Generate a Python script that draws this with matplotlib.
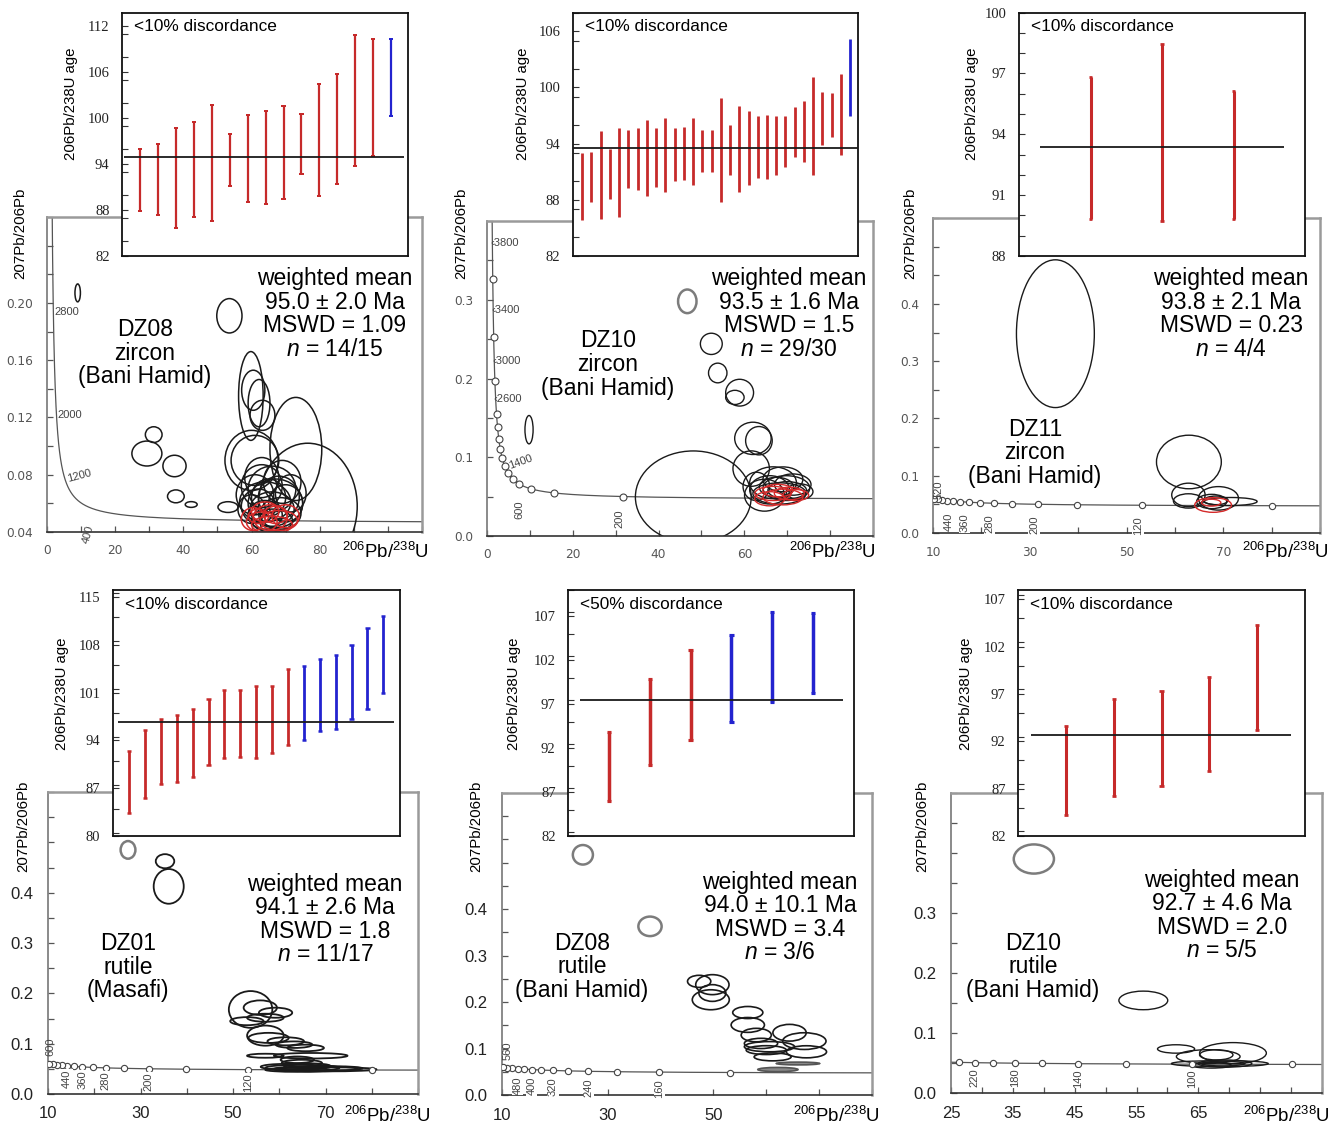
import numpy as np
import matplotlib
matplotlib.use('Agg')
import matplotlib.pyplot as plt
from matplotlib.patches import Ellipse
from matplotlib.ticker import MultipleLocator, FormatStrFormatter

plt.rcParams['font.family'] = ['Liberation Sans', 'DejaVu Sans']
plt.rcParams['mathtext.fontset'] = 'custom'
plt.rcParams['mathtext.rm'] = 'Liberation Sans'
plt.rcParams['mathtext.it'] = 'Liberation Sans:italic'

# ---------------- values ----------------
sample_names = ['DZ08', 'DZ10', 'DZ11', 'DZ01', 'DZ08', 'DZ10']
minerals = ['zircon', 'zircon', 'zircon', 'rutile', 'rutile', 'rutile']
localities = ['(Bani Hamid)', '(Bani Hamid)', '(Bani Hamid)', '(Masafi)', '(Bani Hamid)', '(Bani Hamid)']
wm_age = ['95.0', '93.5', '93.8', '94.1', '94.0', '92.7']
wm_err = ['2.0', '1.6', '2.1', '2.6', '10.1', '4.6']
mswd = ['1.09', '1.5', '0.23', '1.8', '3.4', '2.0']
n_used = ['14/15', '29/30', '4/4', '11/17', '3/6', '5/5']
discordance = ['<10%', '<10%', '<10%', '<10%', '<50%', '<10%']

# inset bars: 206Pb/238U age error bars (lower, upper), colour code, weighted mean
p1_lo = [87.9, 87.35, 85.7, 87.1, 86.55, 91.2, 89.05, 88.8, 89.45, 92.7, 89.85, 91.35, 93.7, 95.0, 100.3]
p1_hi = [95.95, 96.65, 98.75, 99.55, 101.7, 97.95, 100.35, 100.95, 101.6, 100.5, 104.4, 105.75, 110.85, 110.35, 110.35]
p1_col = 'rrrrrrrrrrrrrrb'
p1_mean = 94.95

p2_lo = [85.8, 87.8, 86.0, 88.1, 86.2, 89.3, 89.0, 88.4, 89.4, 88.8, 90.05, 90.1, 89.6, 91.0, 91.0,
         87.8, 90.65, 88.8, 89.6, 90.35, 90.2, 90.7, 91.5, 92.6, 92.0, 90.7, 93.8, 94.7, 92.8, 96.9]
p2_hi = [93.0, 93.1, 95.4, 93.4, 95.7, 95.5, 95.7, 96.5, 95.7, 96.7, 95.7, 95.8, 96.7, 95.5, 95.5,
         98.9, 96.0, 98.0, 97.45, 96.9, 97.1, 96.9, 97.0, 97.9, 98.6, 101.1, 99.5, 99.4, 101.4, 105.2]
p2_col = 'rrrrrrrrrrrrrrrrrrrrrrrrrrrrrb'
p2_mean = 93.5

p3_lo = [89.83, 89.74, 89.83]
p3_hi = [96.83, 98.43, 96.13]
p3_col = 'rrr'
p3_mean = 93.36

p4_lo = [83.33, 85.57, 87.6, 87.91, 88.68, 90.46, 91.48, 91.58, 91.43, 92.09, 93.31, 94.12, 95.3, 95.65, 97.18, 98.6, 100.9]
p4_hi = [92.5, 95.45, 97.18, 97.69, 98.55, 100.08, 101.35, 101.35, 101.97, 101.91, 104.51, 104.87, 105.83, 106.5, 107.97, 110.42, 112.2]
p4_col = 'rrrrrrrrrrrbbbbbb'
p4_mean = 96.67

p5_lo = [85.93, 90.08, 92.89, 94.94, 97.2, 98.23]
p5_hi = [93.88, 99.89, 103.13, 104.83, 107.47, 107.36]
p5_col = 'rrrbbb'
p5_mean = 97.43

p6_lo = [84.17, 86.26, 87.26, 88.87, 93.18]
p6_hi = [93.62, 96.45, 97.29, 98.84, 104.28]
p6_col = 'rrrrr'
p6_mean = 92.66

# error ellipses: (206Pb/238U, 207Pb/206Pb, width, height, kind)
# kind: k black, r red (used in mean), g grey, f filled grey
p1_ell = [(9.0, 0.207, 1.6, 0.0125, 'k'), (53.5, 0.191, 7.4, 0.024, 'k'), (31.3, 0.108, 4.9, 0.011, 'k'),
          (29.3, 0.0948, 8.8, 0.0174, 'k'), (37.4, 0.0861, 6.8, 0.015, 'k'), (37.8, 0.0649, 4.9, 0.009, 'k'),
          (42.3, 0.0592, 3.5, 0.004, 'k'), (53.1, 0.0574, 5.9, 0.0075, 'k'), (59.8, 0.135, 7.2, 0.062, 'k'),
          (60.5, 0.139, 6.8, 0.028, 'k'), (62.2, 0.130, 6.4, 0.033, 'k'), (63.2, 0.1215, 7.3, 0.021, 'k'),
          (73.0, 0.098, 15.2, 0.072, 'k'), (60.0, 0.090, 15.6, 0.042, 'k'), (61.0, 0.090, 14.0, 0.035, 'k'),
          (76.5, 0.058, 29.0, 0.088, 'k'), (63, 0.072, 12, 0.030, 'k'), (66, 0.070, 14, 0.032, 'k'),
          (61, 0.066, 11, 0.028, 'k'), (68, 0.064, 12, 0.030, 'k'), (64, 0.061, 15, 0.028, 'k'),
          (70, 0.060, 10, 0.026, 'k'), (62, 0.058, 10, 0.024, 'k'), (66, 0.056, 13, 0.024, 'k'),
          (68.5, 0.053, 12, 0.022, 'k'), (64, 0.052, 10, 0.020, 'k'), (60, 0.056, 8, 0.020, 'k'),
          (67, 0.060, 16, 0.034, 'k'), (65, 0.064, 10, 0.026, 'k'), (71.5, 0.067, 9, 0.026, 'k'),
          (63, 0.078, 10, 0.028, 'k'), (69, 0.075, 11, 0.030, 'k'), (66, 0.048, 12, 0.016, 'k'),
          (60.5, 0.049, 7, 0.016, 'r'), (63, 0.047, 9, 0.014, 'r'), (65.5, 0.050, 10, 0.018, 'r'),
          (68, 0.048, 11, 0.014, 'r'), (70, 0.051, 8, 0.016, 'r'), (64, 0.054, 8, 0.014, 'r'),
          (67, 0.052, 7, 0.012, 'r'), (62, 0.051, 6, 0.010, 'r'), (66, 0.045, 12, 0.012, 'r')]

p2_ell = [(46.7, 0.298, 4.3, 0.030, 'g'), (52.3, 0.244, 5.1, 0.027, 'k'), (53.8, 0.207, 4.3, 0.025, 'k'),
          (58.9, 0.182, 6.5, 0.034, 'k'), (57.8, 0.176, 4.3, 0.018, 'k'), (9.8, 0.135, 1.9, 0.036, 'k'),
          (48.1, 0.0495, 27.0, 0.117, 'k'), (62.0, 0.124, 8.5, 0.041, 'k'), (63.4, 0.121, 6.2, 0.036, 'k'),
          (61.6, 0.0856, 8.5, 0.045, 'k'), (66.7, 0.0676, 10.9, 0.0405, 'k'), (69.0, 0.072, 9.3, 0.0315, 'k'),
          (65.9, 0.0586, 9.3, 0.036, 'k'), (69.8, 0.0608, 10.9, 0.0315, 'k'), (71.3, 0.0653, 8.5, 0.027, 'k'),
          (64.7, 0.0518, 9.3, 0.0405, 'k'), (68.2, 0.054, 12.4, 0.027, 'k'), (72.9, 0.0563, 6.2, 0.020, 'k'),
          (62.8, 0.063, 6.2, 0.036, 'k'), (67.5, 0.062, 8.0, 0.025, 'k'), (70.0, 0.058, 9.0, 0.022, 'k'),
          (66.7, 0.054, 8.5, 0.018, 'r'), (69.0, 0.0495, 9.3, 0.020, 'r'), (70.5, 0.054, 7.0, 0.016, 'r'),
          (65.9, 0.0473, 7.0, 0.018, 'r'), (67.8, 0.0577, 7.0, 0.016, 'r'), (72.0, 0.052, 6.0, 0.014, 'r')]

p3_ell = [(35.3, 0.348, 16.1, 0.258, 'k'), (62.9, 0.124, 13.4, 0.0935, 'k'), (62.8, 0.0665, 6.9, 0.041, 'k'),
          (62.8, 0.056, 6.2, 0.025, 'k'), (69.0, 0.0605, 8.3, 0.041, 'k'), (71.5, 0.055, 11.0, 0.014, 'k'),
          (67.6, 0.055, 6.2, 0.025, 'k'), (68.5, 0.057, 5.0, 0.015, 'k'), (67.9, 0.0489, 7.6, 0.0256, 'r'),
          (67.5, 0.053, 4.0, 0.012, 'r')]

p4_ell = [(27.3, 0.485, 3.2, 0.035, 'g'), (35.3, 0.4625, 4.0, 0.028, 'k'), (36.1, 0.4125, 6.5, 0.069, 'k'),
          (53.8, 0.168, 9.4, 0.073, 'k'), (55.9, 0.1715, 7.2, 0.029, 'k'), (59.2, 0.1615, 7.2, 0.020, 'k'),
          (53.0, 0.1447, 7.2, 0.016, 'k'), (57.0, 0.1515, 7.9, 0.016, 'k'), (57.0, 0.116, 7.9, 0.040, 'k'),
          (57.7, 0.1115, 8.7, 0.020, 'k'), (61.4, 0.1047, 7.9, 0.016, 'k'), (63.2, 0.098, 7.9, 0.013, 'k'),
          (65.7, 0.0915, 7.9, 0.013, 'k'), (57.0, 0.076, 7.9, 0.008, 'k'), (66.8, 0.076, 15.9, 0.011, 'k'),
          (63.9, 0.068, 7.2, 0.013, 'k'), (64.9, 0.0615, 8.7, 0.013, 'k'), (65, 0.052, 16, 0.012, 'k'),
          (68, 0.050, 18, 0.010, 'k'), (62, 0.054, 12, 0.012, 'k'), (70, 0.049, 22, 0.008, 'k'),
          (66, 0.056, 10, 0.010, 'k'), (64, 0.048, 14, 0.008, 'k'), (72, 0.051, 12, 0.008, 'k')]

p5_ell = [(25.3, 0.517, 3.8, 0.042, 'g'), (38.0, 0.363, 4.4, 0.042, 'g'), (47.3, 0.2446, 4.4, 0.026, 'k'),
          (49.8, 0.2375, 6.3, 0.043, 'k'), (49.8, 0.2195, 5.1, 0.036, 'k'), (49.5, 0.205, 7.0, 0.043, 'k'),
          (56.5, 0.1775, 5.7, 0.026, 'k'), (56.5, 0.1508, 6.3, 0.032, 'k'), (58.1, 0.129, 5.7, 0.029, 'k'),
          (64.4, 0.134, 6.3, 0.036, 'k'), (67.2, 0.116, 8.2, 0.036, 'k'), (59.0, 0.111, 6.3, 0.022, 'k'),
          (60.6, 0.104, 9.5, 0.022, 'k'), (60.0, 0.0966, 7.6, 0.019, 'k'), (61.2, 0.082, 7.0, 0.017, 'k'),
          (67.6, 0.093, 7.6, 0.026, 'k'), (66.0, 0.0678, 8.2, 0.006, 'f'), (62.2, 0.0548, 7.6, 0.009, 'f')]

p6_ell = [(38.4, 0.390, 6.5, 0.0486, 'g'), (56.1, 0.1543, 7.9, 0.031, 'k'), (61.4, 0.0734, 6.0, 0.014, 'k'),
          (66.6, 0.0607, 10.3, 0.023, 'k'), (70.6, 0.0665, 10.8, 0.035, 'k'), (67.9, 0.0636, 5.4, 0.017, 'k'),
          (66.6, 0.049, 11.9, 0.009, 'k'), (69.3, 0.049, 8.7, 0.012, 'k'), (70.9, 0.049, 10.8, 0.009, 'k'),
          (67.1, 0.046, 6.5, 0.009, 'k')]

# concordia age markers and labelled ages (Ma)
p1_marks = []
p1_labels = [2800, 2000, 1200, 400]
p2_marks = [200, 400, 600, 800, 1000, 1200, 1400, 1600, 1800, 2000, 2200, 2400, 2800, 3200, 3600]
p2_labels = [3800, 3400, 3000, 2600, 1400, 600, 200]
p3_marks = [80, 120, 160, 200, 240, 280, 320, 360, 400, 440, 480, 520, 560, 600]
p3_labels = [520, 440, 360, 280, 200, 120]
p4_marks = [80, 120, 160, 200, 240, 280, 320, 360, 400, 440, 480, 520, 560, 600]
p4_labels = [600, 440, 360, 280, 200, 120]
p5_marks = [120, 160, 200, 240, 280, 320, 360, 400, 440, 480, 520, 560, 600]
p5_labels = [560, 480, 400, 320, 240, 160]
p6_marks = [80, 100, 120, 140, 160, 180, 200, 220, 240]
p6_labels = [220, 180, 140, 100]

# decay constants (1/Ma) and 238U/235U
L238, L235, U85 = 1.55125e-4, 9.8485e-4, 137.88


def tera_wasserburg(age):
    age = np.asarray(age, dtype=float)
    e8 = np.exp(L238 * age) - 1
    e5 = np.exp(L235 * age) - 1
    return 1 / e8, e5 / U85 / e8


ellipses = [p1_ell, p2_ell, p3_ell, p4_ell, p5_ell, p6_ell]
bars_lo = [p1_lo, p2_lo, p3_lo, p4_lo, p5_lo, p6_lo]
bars_hi = [p1_hi, p2_hi, p3_hi, p4_hi, p5_hi, p6_hi]
bars_col = [p1_col, p2_col, p3_col, p4_col, p5_col, p6_col]
bars_mean = [p1_mean, p2_mean, p3_mean, p4_mean, p5_mean, p6_mean]
conc_marks = [p1_marks, p2_marks, p3_marks, p4_marks, p5_marks, p6_marks]
conc_labels = [p1_labels, p2_labels, p3_labels, p4_labels, p5_labels, p6_labels]

# label styles: (dx pt, dy pt, rotation, ha, prefix, white box)
below = lambda dx, dy: (dx, dy, 90, 'center', '', True)
label_styles = [
    [(1, -3, 0, 'left', '', False), (1, -1, 0, 'left', '', False), (2, -1, 15, 'left', '', False),
     (-9, -17, 75, 'center', '', False)],
    [(-1.5, 0, 0, 'left', '\u2039', False)] * 4 + [(2, 3, 20, 'left', '', False),
                                                   (-8, -15, 90, 'center', '', False),
                                                   (-3, -16, 90, 'center', '', False)],
    [(-2.5, 7, 90, 'center', '', False)] + [below(-3, -15)] * 5,
    [(1, 12.5, 90, 'center', '', False)] + [below(0, -9.5)] * 5,
    [(0, 12, 90, 'center', '', False)] + [below(0, -12)] * 5,
    [below(0, -10.6)] * 4,
]

# layout in pixels (left, top, right, bottom) and axis settings
small = dict(tsize=8.7, tfont='DejaVu Sans', tcolor='#555', xpad=9, ypad=10)
large = dict(tsize=12, tfont='Liberation Sans', tcolor='#222', xpad=9, ypad=10.5)
layout = [
    dict(main=(47, 217, 422, 532), inset=(122, 12.5, 408, 256), xlim=(0, 110), ylim=(0.04, 0.26),
         xt=[0, 20, 40, 60, 80], xm=10, yt=[0.04, 0.08, 0.12, 0.16, 0.20], ym=0.02, yfmt='%.2f',
         inxlim=(-0.02, 15.95), inylim=(82, 113.8), inyt=list(range(82, 113, 6)), inym=3,
         blw=1.6, cap=9, meanx=(0.1, 15.7), ms=0, lw_ell=1.1,
         stats=(335, 279), sample=(145, 330), ylab=(20, 233), xlab=(385.5, 552), inylab=(70.7, 104), **small),
    dict(main=(487, 221, 873, 536), inset=(573, 12.5, 858, 256), xlim=(0, 90), ylim=(0, 0.4),
         xt=[0, 20, 40, 60], xm=10, yt=[0, 0.1, 0.2, 0.3], ym=0.05, yfmt='%.1f',
         inxlim=(0, 30.85), inylim=(82, 108), inyt=list(range(82, 107, 6)), inym=3,
         blw=2.0, cap=0, meanx=(0, 30.85), ms=5, lw_ell=1.0,
         stats=(789, 279), sample=(608, 341), ylab=(461.7, 233), xlab=(832.5, 552), inylab=(523.3, 104), **small),
    dict(main=(933, 218, 1320, 533), inset=(1019, 12.5, 1305, 256), xlim=(10, 90), ylim=(0, 0.55),
         xt=[10, 30, 50, 70], xm=10, yt=[0, 0.1, 0.2, 0.3, 0.4], ym=0.05, yfmt='%.1f',
         inxlim=(0, 4), inylim=(88, 100), inyt=[88, 91, 94, 97, 100], inym=1,
         blw=2.2, cap=8, meanx=(0.29, 3.7), ms=4.5, lw_ell=1.0,
         stats=(1231, 279), sample=(1035, 429), ylab=(910, 233), xlab=(1285.8, 552), inylab=(972, 104), **small),
    dict(main=(48, 792, 418, 1094), inset=(113, 590, 400, 836), xlim=(10, 90), ylim=(0, 0.6),
         xt=[10, 30, 50, 70], xm=10, yt=[0, 0.1, 0.2, 0.3, 0.4], ym=0.05, yfmt='%.1f',
         inxlim=(-0.01, 18.05), inylim=(80, 116), inyt=list(range(80, 116, 7)), inym=3.5,
         blw=2.0, cap=9, meanx=(0.3, 17.7), ms=4.5, lw_ell=1.3,
         stats=(325, 884), sample=(128, 944), ylab=(23.3, 826), xlab=(387.5, 1116), inylab=(62.2, 694), **large),
    dict(main=(502, 793, 872, 1095), inset=(568, 590, 854, 836), xlim=(10, 80), ylim=(0, 0.65),
         xt=[10, 30, 50], xm=10, yt=[0, 0.1, 0.2, 0.3, 0.4], ym=0.05, yfmt='%.1f',
         inxlim=(0, 7), inylim=(82, 110), inyt=list(range(82, 108, 5)), inym=2.5,
         blw=2.5, cap=9, meanx=(0.3, 6.73), ms=4.5, lw_ell=1.2,
         stats=(780, 882), sample=(582, 943), ylab=(476.7, 826), xlab=(836.7, 1116), inylab=(514.2, 694), **large),
    dict(main=(951, 793, 1322, 1093), inset=(1018, 590, 1305, 836), xlim=(25, 85), ylim=(0, 0.5),
         xt=[25, 35, 45, 55, 65], xm=5, yt=[0, 0.1, 0.2, 0.3], ym=0.05, yfmt='%.1f',
         inxlim=(0, 6), inylim=(82, 108), inyt=list(range(82, 108, 5)), inym=2.5,
         blw=2.2, cap=9, meanx=(0.28, 5.7), ms=4.5, lw_ell=1.0,
         stats=(1222, 880), sample=(1033, 943), ylab=(922.5, 826), xlab=(1286.7, 1116), inylab=(965.8, 694), **large),
]

RED = '#c62a2a'
BLUE = '#2323cf'
ell_kinds = {'k': dict(ec='#1a1a1a', fill=False),
             'r': dict(ec='#d42a2a', fill=False),
             'g': dict(ec='#7c7c7c', fill=False),
             'f': dict(ec='#555555', fc='#8a8a8a', fill=True)}

W, H = 1341, 1124
fig = plt.figure(figsize=(W / 100, H / 100), dpi=100)


def rect(l, t, r, b):
    return [l / W, 1 - b / H, (r - l) / W, (b - t) / H]


def ftext(x, y, s, **kw):
    fig.text(x / W, 1 - y / H, s, **kw)


curve_ages = np.geomspace(30, 4600, 900)

for i, L in enumerate(layout):
    # ---- main Tera-Wasserburg plot ----
    ax = fig.add_axes(rect(*L['main']))
    ax.set_xlim(L['xlim'])
    ax.set_ylim(L['ylim'])
    ax.set_xticks(L['xt'])
    ax.set_yticks(L['yt'])
    ax.xaxis.set_minor_locator(MultipleLocator(L['xm']))
    ax.yaxis.set_minor_locator(MultipleLocator(L['ym']))
    ax.yaxis.set_major_formatter(FormatStrFormatter(L['yfmt']))
    ax.tick_params(which='both', direction='in', length=4, width=0.9, color='#555',
                   labelsize=L['tsize'], labelcolor=L['tcolor'], labelfontfamily=L['tfont'])
    ax.tick_params(axis='x', which='both', pad=L['xpad'])
    ax.tick_params(axis='y', which='both', pad=L['ypad'])
    for sp in ax.spines.values():
        sp.set_color('#9a9a9a')
        sp.set_linewidth(1.8)
    ax.spines['bottom'].set_color('#333333')
    ax.spines['bottom'].set_linewidth(1.2)
    ax.spines['left'].set_color('#777777')
    ax.spines['left'].set_linewidth(1.2)

    cx, cy = tera_wasserburg(curve_ages)
    ax.plot(cx, cy, color='#555555', lw=0.9, zorder=1)

    for ex, ey, ew, eh, kd in ellipses[i]:
        lw = 1.8 if kd == 'g' else L['lw_ell']
        ax.add_patch(Ellipse((ex, ey), ew, eh, lw=lw, zorder=2, **ell_kinds[kd]))

    if conc_marks[i]:
        mx, my = tera_wasserburg(conc_marks[i])
        ax.plot(mx, my, 'o', ms=L['ms'], mfc='white', mec='#444444', mew=0.8, zorder=4)
    for age, (dx, dy, rot, ha, pre, box) in zip(conc_labels[i], label_styles[i]):
        lx, ly = tera_wasserburg(age)
        kw = dict(bbox=dict(fc='white', ec='none', pad=0.6)) if box else {}
        ax.annotate(pre + str(age), (lx, ly), xytext=(dx, dy), textcoords='offset points',
                    rotation=rot, ha=ha, va='center', fontsize=8, color='#444444',
                    annotation_clip=False, zorder=5, **kw)

    # ---- inset of weighted mean ages ----
    ai = fig.add_axes(rect(*L['inset']))
    lo, hi = np.array(bars_lo[i]), np.array(bars_hi[i])
    pos = np.arange(1, len(lo) + 1)
    cols = [RED if c == 'r' else BLUE for c in bars_col[i]]
    ai.vlines(pos, lo, hi, colors=cols, lw=L['blw'])
    if L['cap']:
        ai.scatter(pos, lo, marker='_', s=L['cap'], c=cols, linewidths=L['blw'] * 0.9)
        ai.scatter(pos, hi, marker='_', s=L['cap'], c=cols, linewidths=L['blw'] * 0.9)
    ai.hlines(bars_mean[i], L['meanx'][0], L['meanx'][1], color='#1a1a1a', lw=1.3, zorder=3)
    ai.set_xlim(L['inxlim'])
    ai.set_ylim(L['inylim'])
    ai.set_xticks([])
    ai.set_yticks(L['inyt'])
    ai.yaxis.set_minor_locator(MultipleLocator(L['inym']))
    ai.tick_params(which='both', direction='in', length=4, width=0.8, color='#333', pad=9,
                   labelsize=10.5, labelfontfamily='Liberation Serif', labelcolor='#222')
    for sp in ai.spines.values():
        sp.set_linewidth(1.3)
        sp.set_color('#111111')
    ai.text(0.042, 0.943, discordance[i] + ' discordance', transform=ai.transAxes,
            fontsize=12.4, ha='left', va='center')

    # ---- texts ----
    ftext(*L['inylab'], '206Pb/238U age', rotation=90, ha='center', va='center', fontsize=10.8)
    ftext(*L['ylab'], '207Pb/206Pb', rotation=90, ha='center', va='center', fontsize=10.8)
    ftext(*L['xlab'], r'$^{206}$Pb/$^{238}$U', ha='center', va='center', fontsize=13.4)

    sx, sy = L['stats']
    stats_lines = ['weighted mean', wm_age[i] + ' \u00b1 ' + wm_err[i] + ' Ma',
                   'MSWD = ' + mswd[i], '$n$ = ' + n_used[i]]
    for k, s in enumerate(stats_lines):
        ftext(sx, sy + 23.5 * k, s, ha='center', va='center', fontsize=16.5)
    tx, ty = L['sample']
    for k, s in enumerate([sample_names[i], minerals[i], localities[i]]):
        ftext(tx, ty + 23.5 * k, s, ha='center', va='center', fontsize=16.5)

fig.savefig('out.png', dpi=100)
